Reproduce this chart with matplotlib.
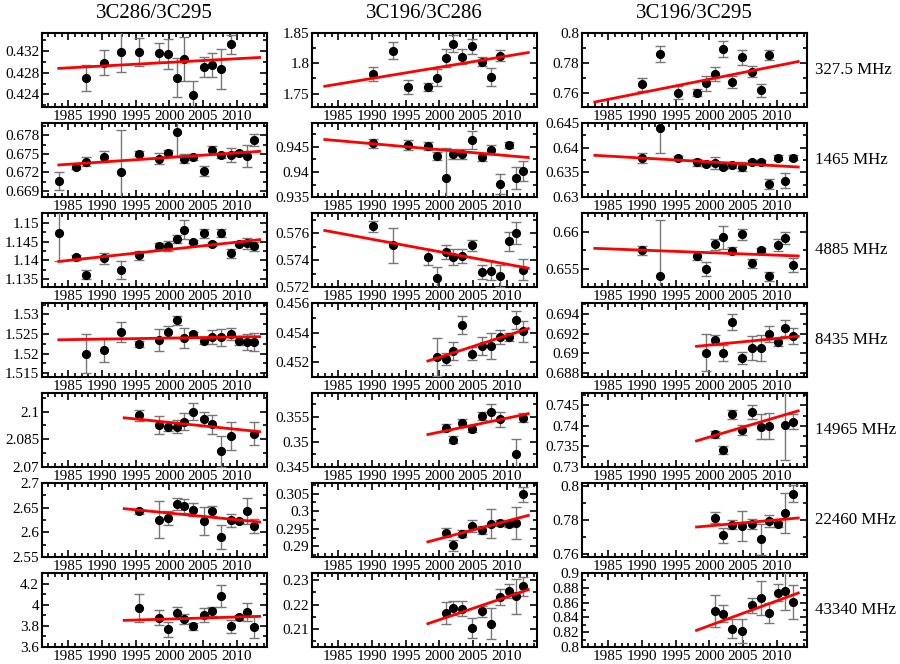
import numpy as np
import matplotlib
matplotlib.use("Agg")
import matplotlib.pyplot as plt
from matplotlib.ticker import FuncFormatter, MultipleLocator, AutoMinorLocator

nan = np.nan

titles = ["3C286/3C295", "3C196/3C286", "3C196/3C295"]
freqs = ["327.5 MHz", "1465 MHz", "4885 MHz", "8435 MHz", "14965 MHz", "22460 MHz", "43340 MHz"]

# epochs (years) per column
yrs1 = [1983.6, 1986.2, 1987.6, 1990.3, 1992.8, 1995.5, 1998.5, 1999.8, 2001.1, 2002.2,
        2003.5, 2005.1, 2006.4, 2007.7, 2009.1, 2010.4, 2011.5, 2012.5]
yrs2 = [1990.2, 1993.1, 1995.4, 1998.3, 1999.6, 2001.0, 2002.1, 2003.4, 2004.9, 2006.3,
        2007.6, 2009.0, 2010.3, 2011.4, 2012.4]
yrs3 = [1990.0, 1992.7, 1995.3, 1998.1, 1999.5, 2000.9, 2002.0, 2003.4, 2004.8, 2006.3,
        2007.6, 2008.9, 2010.2, 2011.2, 2012.4]

# 3C286/3C295
a_327 = [nan, nan, 0.4271, 0.4298, 0.4318, 0.4318, 0.4317, 0.4314, 0.4271, 0.4305, 0.4239, 0.4290, 0.4294, 0.4287, 0.4332, nan, nan, nan]
ae_327 = [nan, nan, 0.0024, 0.0023, 0.0037, 0.0025, 0.0018, 0.0028, 0.0036, 0.0041, 0.0026, 0.0018, 0.0022, 0.0037, 0.0018, nan, nan, nan]
a_1465 = [0.6706, 0.6729, 0.6737, 0.6745, 0.6721, 0.6750, 0.6742, 0.6752, 0.6785, 0.6742, 0.6745, 0.6722, 0.6756, 0.6748, 0.6748, 0.6751, 0.6747, 0.6772]
ae_1465 = [0.0014, 0.0004, 0.00075, 0.0009, 0.0067, 0.0004, 0.0009, 0.0005, 0.0039, 0.0007, 0.0005, 0.0008, 0.0007, 0.0004, 0.0012, 0.0004, 0.0018, 0.001]
a_4885 = [1.1472, 1.1408, 1.1362, 1.1405, 1.1374, 1.1414, 1.1439, 1.1438, 1.1456, 1.1482, 1.1449, 1.1472, 1.1443, 1.1472, 1.1419, 1.1444, 1.1445, 1.1437]
ae_4885 = [0.0073, 0.0006, 0.0012, 0.0014, 0.0025, 0.0012, 0.0008, 0.0014, 0.0011, 0.0026, 0.0004, 0.0012, 0.0006, 0.0011, 0.0012, 0.0004, 0.0015, 0.0011]
a_8435 = [nan, nan, 1.52, 1.5209, 1.5255, 1.5224, 1.5235, 1.5255, 1.5285, 1.5239, 1.525, 1.5233, 1.5242, 1.5241, 1.525, 1.5233, 1.5229, 1.523]
ae_8435 = [nan, nan, 0.0049, 0.0031, 0.0026, 0.0008, 0.0028, 0.0014, 0.0012, 0.0025, 0.0005, 0.0009, 0.0017, 0.0022, 0.0015, 0.0011, 0.0021, 0.0023]
a_14965 = [nan]*5 + [2.098, 2.0927, 2.0918, 2.0918, 2.0945, 2.0998, 2.0957, 2.093, 2.0784, 2.0868, nan, nan, 2.0879]
ae_14965 = [nan]*5 + [0.0029, 0.0047, 0.0025, 0.0036, 0.0045, 0.0046, 0.0038, 0.0051, 0.0082, 0.0076, nan, nan, 0.0062]
a_22460 = [nan]*5 + [2.6426, 2.6257, 2.6291, 2.6581, 2.6534, 2.6459, 2.623, 2.6426, 2.5905, 2.6243, 2.623, 2.6432, 2.6128]
ae_22460 = [nan]*5 + [0.005, 0.038, 0.0135, 0.012, 0.0145, 0.0135, 0.029, 0.01, 0.025, 0.0135, 0.005, 0.027, 0.015]
a_43340 = [nan]*5 + [3.969, 3.877, 3.767, 3.921, 3.868, 3.795, 3.903, 3.937, 4.082, 3.795, 3.88, 3.931, 3.789]
ae_43340 = [nan]*5 + [0.134, 0.071, 0.068, 0.06, 0.047, 0.036, 0.063, 0.04, 0.1, 0.058, 0.022, 0.082, 0.106]

# 3C196/3C286
b_327 = [1.7822, 1.8211, 1.7611, 1.7611, 1.7761, 1.8094, 1.8322, 1.8111, 1.8278, 1.8028, 1.7778, 1.8128, nan, nan, nan]
be_327 = [0.012, 0.014, 0.011, 0.0065, 0.014, 0.015, 0.014, 0.013, 0.013, 0.0075, 0.015, 0.009, nan, nan, nan]
b_1465 = [0.9458, nan, 0.9453, 0.9451, 0.9431, 0.9389, 0.9437, 0.9437, 0.9464, 0.943, 0.9445, 0.9377, 0.9454, 0.9389, 0.9402]
be_1465 = [0.0009, nan, 0.001, 0.0008, 0.0008, 0.006, 0.001, 0.001, 0.0018, 0.0008, 0.0008, 0.002, 0.0006, 0.0022, 0.0019]
b_4885 = [0.5765, 0.5751, nan, 0.5742, 0.5727, 0.5746, 0.5742, 0.5743, 0.5751, 0.5731, 0.5732, 0.5728, 0.5754, 0.5760, 0.5733]
be_4885 = [0.0004, 0.0013, nan, 0.0006, 0.0008, 0.0005, 0.0006, 0.0005, 0.0004, 0.0005, 0.0007, 0.0008, 0.0007, 0.0008, 0.0008]
b_8435 = [nan]*4 + [0.45235, 0.45224, 0.45276, 0.45449, 0.45258, 0.45307, 0.4531, 0.4537, 0.4537, 0.45483, 0.45409]
be_8435 = [nan]*4 + [0.0013, 0.0004, 0.0006, 0.0006, 0.00045, 0.0006, 0.0009, 0.0005, 0.0003, 0.0006, 0.0007]
b_14965 = [nan]*5 + [0.35283, 0.35049, 0.35384, 0.35263, 0.35518, 0.35598, 0.35451, nan, 0.34768, 0.35484]
be_14965 = [nan]*5 + [0.0007, 0.0007, 0.0008, 0.0007, 0.0008, 0.0017, 0.0015, nan, 0.003, 0.0009]
b_22460 = [nan]*5 + [0.2939, 0.2903, 0.2936, 0.2958, 0.2946, 0.2965, 0.2966, 0.2963, 0.2966, 0.3048]
be_22460 = [nan]*5 + [0.0012, 0.0015, 0.001, 0.0018, 0.0012, 0.004, 0.0009, 0.0007, 0.0045, 0.0022]
b_43340 = [nan]*5 + [0.21665, 0.21857, 0.2183, 0.21047, 0.2172, 0.21212, 0.22311, 0.22558, 0.22338, 0.2275]
be_43340 = [nan]*5 + [0.0045, 0.003, 0.003, 0.0041, 0.0024, 0.0063, 0.0034, 0.0027, 0.0072, 0.0038]

# 3C196/3C295
c_327 = [0.7659, 0.7862, 0.7606, 0.7606, 0.7666, 0.7728, 0.7893, 0.7677, 0.784, 0.7744, 0.7621, 0.7855, nan, nan, nan]
ce_327 = [0.0041, 0.0052, 0.0041, 0.0021, 0.005, 0.0048, 0.0053, 0.0038, 0.005, 0.0038, 0.0042, 0.0031, nan, nan, nan]
c_1465 = [0.6379, 0.644, 0.638, 0.637, 0.6366, 0.6369, 0.6361, 0.6364, 0.6361, 0.637, 0.637, 0.6327, 0.638, 0.6333, 0.638]
ce_1465 = [0.001, 0.0051, 0.0004, 0.0008, 0.0003, 0.0012, 0.0005, 0.0006, 0.0009, 0.0004, 0.0005, 0.001, 0.0005, 0.0015, 0.0005]
c_4885 = [0.6575, 0.6541, nan, 0.65675, 0.65499, 0.6583, 0.65923, 0.65746, 0.65963, 0.65578, 0.65755, 0.65401, 0.65821, 0.6591, 0.65556]
ce_4885 = [0.0006, 0.0074, nan, 0.0005, 0.0009, 0.0007, 0.0015, 0.0005, 0.0007, 0.0006, 0.0003, 0.0006, 0.0008, 0.0008, 0.0009]
c_8435 = [nan]*4 + [0.69007, 0.69132, 0.69007, 0.69317, 0.68956, 0.69057, 0.69057, 0.69192, 0.69115, 0.6926, 0.69172]
ce_8435 = [nan]*4 + [0.0019, 0.0005, 0.0008, 0.0008, 0.0006, 0.0012, 0.0013, 0.0008, 0.0004, 0.0008, 0.0008]
c_14965 = [nan]*5 + [0.73796, 0.73418, 0.74278, 0.739, 0.74326, 0.7398, 0.73996, nan, 0.7402, 0.74101]
ce_14965 = [nan]*5 + [0.0009, 0.001, 0.0012, 0.0011, 0.0017, 0.0031, 0.0032, nan, 0.0085, 0.0018]
c_22460 = [nan]*5 + [0.78139, 0.77088, 0.77722, 0.77623, 0.77782, 0.7685, 0.77921, 0.77742, 0.78416, 0.79566]
ce_22460 = [nan]*5 + [0.0033, 0.0046, 0.0028, 0.0089, 0.003, 0.0094, 0.0035, 0.0015, 0.0119, 0.005]
c_43340 = [nan]*5 + [0.84865, 0.84505, 0.82477, 0.82162, 0.8563, 0.86622, 0.8464, 0.87342, 0.87523, 0.86081]
ce_43340 = [nan]*5 + [0.0214, 0.0113, 0.0128, 0.0162, 0.0101, 0.0227, 0.0133, 0.0119, 0.0257, 0.0232]

# fitted trend lines: [year start, year end, value start, value end]
fit_a = [[1983.6, 2013.4, 0.4288, 0.4308], [1983.6, 2013.4, 0.6732, 0.6754], [1983.6, 2013.4, 1.1397, 1.1455],
         [1983.6, 2013.4, 1.5235, 1.5243], [1993.3, 2013.4, 2.0966, 2.0891], [1993.3, 2013.4, 2.648, 2.621],
         [1993.3, 2013.4, 3.852, 3.89]]
fit_b = [[1983.0, 2013.2, 1.7622, 1.8178], [1983.0, 2013.2, 0.9465, 0.9429], [1983.0, 2013.2, 0.5762, 0.5734],
         [1998.3, 2013.2, 0.45208, 0.45427], [1998.3, 2013.2, 0.3515, 0.35565], [1998.3, 2013.2, 0.2913, 0.2988],
         [1998.3, 2013.2, 0.21212, 0.22613]]
fit_c = [[1983.0, 2013.2, 0.7543, 0.7811], [1983.0, 2013.2, 0.63845, 0.63608], [1983.0, 2013.2, 0.65777, 0.65675],
         [1998.1, 2013.2, 0.69071, 0.69172], [1998.1, 2013.2, 0.73635, 0.74366], [1998.1, 2013.2, 0.77584, 0.78119],
         [1998.1, 2013.2, 0.82252, 0.87297]]

ylims_a = [(0.4217, 0.4353), (0.668, 0.680), (1.1329, 1.1526), (1.514, 1.5329), (2.07, 2.11), (2.55, 2.7), (3.6, 4.3)]
ylims_b = [(1.728, 1.85), (0.935, 0.9498), (0.572, 0.5775), (0.451, 0.456), (0.345, 0.3598), (0.287, 0.308), (0.2025, 0.233)]
ylims_c = [(0.751, 0.8), (0.63, 0.645), (0.6526, 0.6625), (0.6876, 0.6951), (0.73, 0.748), (0.758, 0.802), (0.8, 0.9)]
ystep_a = [0.004, 0.003, 0.005, 0.005, 0.015, 0.05, 0.2]
ystep_b = [0.05, 0.005, 0.002, 0.002, 0.005, 0.005, 0.01]
ystep_c = [0.02, 0.005, 0.005, 0.002, 0.005, 0.02, 0.02]

plt.rcParams['font.family'] = ['Liberation Serif', 'DejaVu Serif']

fig = plt.figure(figsize=(9, 6.64), dpi=100)

cols = [
    (yrs1, [a_327, a_1465, a_4885, a_8435, a_14965, a_22460, a_43340],
     [ae_327, ae_1465, ae_4885, ae_8435, ae_14965, ae_22460, ae_43340], fit_a, ylims_a, ystep_a),
    (yrs2, [b_327, b_1465, b_4885, b_8435, b_14965, b_22460, b_43340],
     [be_327, be_1465, be_4885, be_8435, be_14965, be_22460, be_43340], fit_b, ylims_b, ystep_b),
    (yrs3, [c_327, c_1465, c_4885, c_8435, c_14965, c_22460, c_43340],
     [ce_327, ce_1465, ce_4885, ce_8435, ce_14965, ce_22460, ce_43340], fit_c, ylims_c, ystep_c),
]

W, H = 900.0, 664.0
lefts = [42, 312, 582]
fmt = FuncFormatter(lambda v, p: "%g" % round(v, 6))

for j, (yrs, vals, errs, fits, ylims, steps) in enumerate(cols):
    for i in range(7):
        top = 33 + 90 * i
        ax = fig.add_axes([lefts[j] / W, 1 - (top + 74) / H, 225 / W, 74 / H])
        ax.errorbar(yrs, vals[i], yerr=errs[i], fmt='o', color='black', ms=5.6,
                    ecolor='#777777', elinewidth=1, capsize=3.5, capthick=1, zorder=3)
        f = fits[i]
        ax.plot([f[0], f[1]], [f[2], f[3]], color='red', lw=2, zorder=4)
        ax.set_xlim(1981.1, 2014.5)
        ax.set_ylim(*ylims[i])
        ax.xaxis.set_major_locator(MultipleLocator(5))
        ax.xaxis.set_minor_locator(MultipleLocator(1))
        ax.yaxis.set_major_locator(MultipleLocator(steps[i]))
        ax.yaxis.set_minor_locator(AutoMinorLocator(2))
        ax.yaxis.set_major_formatter(fmt)
        ax.tick_params(which='both', direction='in', top=True, right=True, width=1.2,
                       labelsize=11, pad=2)
        ax.tick_params(which='major', length=5)
        ax.tick_params(which='minor', length=3)
        for s in ax.spines.values():
            s.set_linewidth(1.5)
    fig.text((lefts[j] + 112.5) / W, 1 - 14 / H, titles[j], ha='center', va='center', fontsize=15)

for i in range(7):
    fig.text(815 / W, 1 - (33 + 90 * i + 37) / H, freqs[i], ha='left', va='center', fontsize=12.2)

fig.savefig("out.png", dpi=100)
